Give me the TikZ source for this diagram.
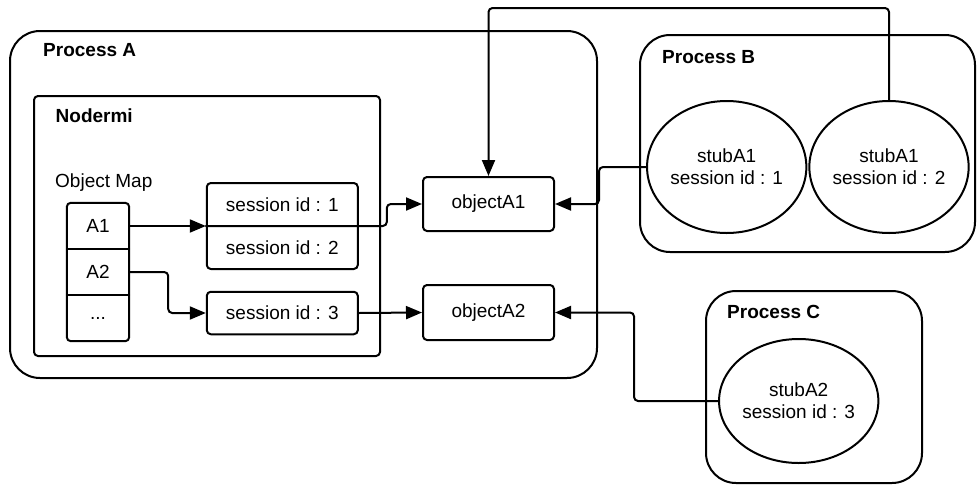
\documentclass[tikz,border=0pt]{standalone}
\usepackage{fontspec}
\setmainfont{Liberation Sans}
\usetikzlibrary{arrows.meta,shapes.geometric}

\begin{document}
\begin{tikzpicture}[x=1pt,y=-1pt,font=\fontsize{19}{22}\selectfont,line cap=round,line join=round,
  procbox/.style={draw,line width=2pt,rounded corners=30pt,inner sep=0pt},
  mapbox/.style={draw,line width=2pt,rounded corners=4pt,inner sep=0pt},
  maprow/.style={inner sep=0pt,minimum width=62pt,minimum height=46pt},
  stub/.style={draw,ellipse,line width=2pt,inner sep=0pt,align=center,minimum width=153pt},
  title/.style={font=\fontsize{19}{22}\selectfont\bfseries,anchor=base west,inner sep=0pt},
  conn/.style={line width=2pt,rounded corners=4pt,-{Triangle[length=16pt,width=13pt]}}]
\useasboundingbox (0,0) rectangle (977,485);
\node[procbox,minimum width=587pt,minimum height=347pt] (procA) at (303.5,204.5) {};
\node[procbox,minimum width=335pt,minimum height=217pt] (procB) at (807.5,143.5) {};
\node[procbox,minimum width=216pt,minimum height=192pt] (procC) at (814,387) {};
\node[title] (titleA) at (43,56) {Process A};
\node[title] (titleB) at (662,63) {Process B};
\node[title] (titleC) at (727,318) {Process C};
\node[mapbox,minimum width=346pt,minimum height=260pt] (nodermi) at (207,226) {};
\node[title] (titleN) at (55.5,122) {Nodermi};
\node[anchor=base west,inner sep=0pt] (mapname) at (55,187) {Object Map};
\node[maprow] (A1) at (98,226) {A1};
\node[maprow] (A2) at (98,272) {A2};
\node[maprow] (dots) at (98,318) {...};
\draw[line width=2pt,rounded corners=4pt] (A1.north west) rectangle (dots.south east);
\draw[line width=2pt] (A1.south west) -- (A1.south east) (A2.south west) -- (A2.south east);
\node[mapbox,minimum width=151pt,minimum height=86pt,align=center] (sess12) at (282.3,226) {session id : 1\\[21pt]session id : 2};
\node[mapbox,minimum width=151pt,minimum height=42.5pt] (sess3) at (282.3,313) {session id : 3};
\node[mapbox,minimum width=131pt,minimum height=54pt] (objA1) at (488.5,204) {objectA1};
\node[mapbox,minimum width=131pt,minimum height=55pt] (objA2) at (488.5,312.5) {objectA2};
\node[stub,minimum height=132pt] (stub1) at (726.7,167) {stubA1\\session id : 1};
\node[stub,minimum height=132pt] (stub2) at (889,167) {stubA1\\session id : 2};
\node[stub,minimum height=124pt] (stub3) at (798.7,401) {stubA2\\session id : 3};
\draw[conn] (A1.east) -- (sess12.west);
\draw[conn] (A2.east) -- ++(39,0) |- (sess3.west);
\draw[conn] (sess12.west) -- (sess12.east) -- ++(28,0) |- (objA1.west);
\draw[conn] (sess3.east) -- (objA2.west);
\draw[conn] (stub2.north) -- ++(0,-92) -| (objA1.north);
\draw[conn] (stub1.west) -- ++(-47,0) |- (objA1.east);
\draw[conn] (stub3.west) -- ++(-84,0) |- (objA2.east);
\end{tikzpicture}
\end{document}
